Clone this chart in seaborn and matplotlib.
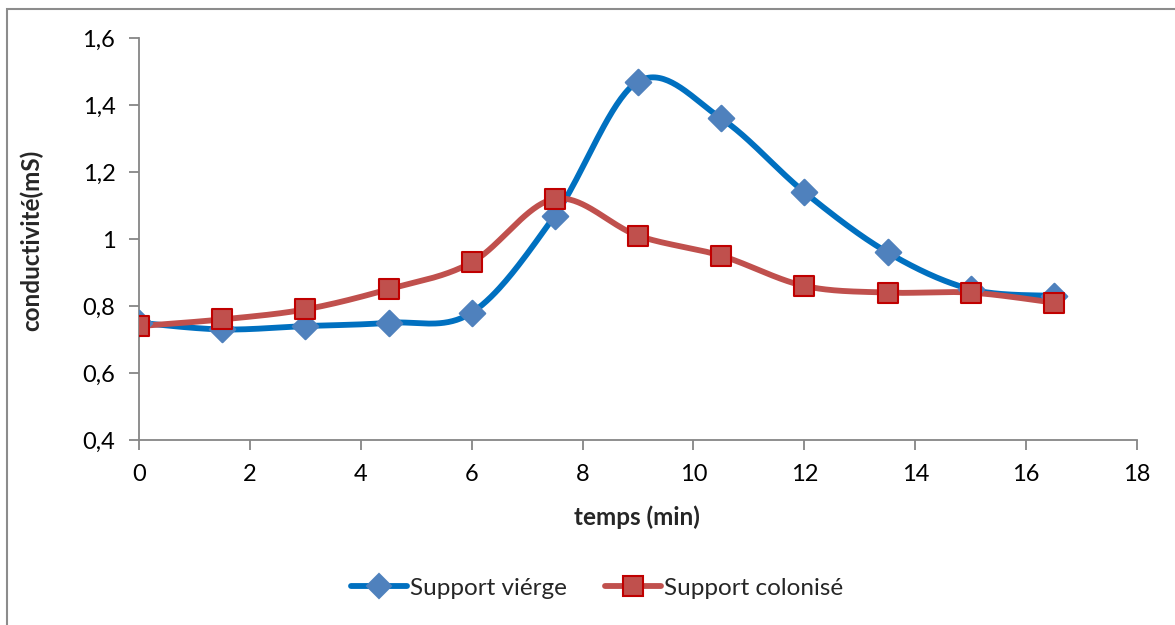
import numpy as np
import pandas as pd
import matplotlib
matplotlib.use("Agg")
import matplotlib.pyplot as plt
from matplotlib.lines import Line2D
from matplotlib.patches import Rectangle
import seaborn as sns

# Measured conductivity over time
temps = [0, 1.5, 3, 4.5, 6, 7.5, 9, 10.5, 12, 13.5, 15, 16.5]
support_vierge = [0.75, 0.73, 0.74, 0.75, 0.78, 1.07, 1.47, 1.36, 1.14, 0.96, 0.85, 0.83]
support_colonise = [0.74, 0.76, 0.79, 0.85, 0.93, 1.12, 1.01, 0.95, 0.86, 0.84, 0.84, 0.81]
series_names = ["Support viérge", "Support colonisé"]
x_ticks = [0, 2, 4, 6, 8, 10, 12, 14, 16, 18]
y_ticks = [0.4, 0.6, 0.8, 1.0, 1.2, 1.4, 1.6]


def smooth(x, y, n=40):
    """Cardinal (Catmull-Rom) Bezier smoothing through every point."""
    x = np.asarray(x, float)
    y = np.asarray(y, float)
    px = np.concatenate([[x[0]], x, [x[-1]]])
    py = np.concatenate([[y[0]], y, [y[-1]]])
    xs, ys = [], []
    t = np.linspace(0, 1, n)
    for i in range(1, len(px) - 2):
        p0 = np.array([px[i], py[i]])
        p3 = np.array([px[i + 1], py[i + 1]])
        c1 = p0 + (np.array([px[i + 1], py[i + 1]]) - np.array([px[i - 1], py[i - 1]])) / 6
        c2 = p3 - (np.array([px[i + 2], py[i + 2]]) - np.array([px[i], py[i]])) / 6
        b = ((1 - t) ** 3)[:, None] * p0 + (3 * (1 - t) ** 2 * t)[:, None] * c1 \
            + (3 * (1 - t) * t ** 2)[:, None] * c2 + (t ** 3)[:, None] * p3
        xs.extend(b[:, 0])
        ys.extend(b[:, 1])
    return np.array(xs), np.array(ys)


sns.set_theme(style="white")
plt.rcParams["font.family"] = ["Lato", "DejaVu Sans"]

fig = plt.figure(figsize=(11.75, 6.25), dpi=100)
ax = fig.add_axes([139 / 1175, 1 - 440 / 625, (1137 - 139) / 1175, (440 - 38) / 625])

# Chart-area frame
fig.patches.append(Rectangle((7 / 1175, -0.01), 1.02, 1 - 9 / 625 + 0.01,
                             transform=fig.transFigure, fill=False,
                             edgecolor="#8c8c8c", linewidth=1.5, zorder=0))

styles = [
    dict(line="#0070C0", face="#4F81BD", edge="#4F81BD", marker="D", ms=13),
    dict(line="#C0504D", face="#C0504D", edge="#C00000", marker="s", ms=15),
]

for vals, name, st in zip([support_vierge, support_colonise], series_names, styles):
    sx, sy = smooth(temps, vals)
    sns.lineplot(x=sx, y=sy, sort=False, ax=ax, color=st["line"], linewidth=4.2,
                 estimator=None, legend=False)
    df = pd.DataFrame({"temps": temps, "val": vals})
    sns.scatterplot(data=df, x="temps", y="val", ax=ax, marker=st["marker"],
                    s=st["ms"] ** 2, color=st["face"], edgecolor=st["edge"],
                    linewidth=1.5, legend=False, zorder=5)

ax.set_xlim(0, 18)
ax.set_ylim(0.4, 1.6)
ax.set_xticks(x_ticks)
ax.set_yticks(y_ticks)
ax.set_xticklabels([str(v) for v in x_ticks])
ax.set_yticklabels([("%g" % v).replace(".", ",") for v in y_ticks])

for side in ["top", "right"]:
    ax.spines[side].set_visible(False)
for side in ["left", "bottom"]:
    ax.spines[side].set_color("#868686")
    ax.spines[side].set_linewidth(1.3)

ax.tick_params(axis="both", which="major", direction="out", length=7, width=1.3,
               color="#868686", labelsize=17, labelcolor="black", left=True, bottom=True)
ax.tick_params(axis="x", pad=10)
ax.tick_params(axis="y", pad=10)

ax.set_xlabel("temps (min)", fontsize=17.5, fontweight="bold")
ax.set_ylabel("conductivité(mS)", fontsize=17.5, fontweight="bold")
ax.xaxis.set_label_coords((637 - 139) / 998, (440 - 505) / 402)
ax.yaxis.set_label_coords((43 - 139) / 998, (440 - 240) / 402)

handles = [
    Line2D([0], [0], color=st["line"], linewidth=4.2, marker=st["marker"],
           markersize=st["ms"] * 0.95, markerfacecolor=st["face"],
           markeredgecolor=st["edge"], markeredgewidth=1.5)
    for st in styles
]
fig.legend(handles, series_names, loc="center", bbox_to_anchor=(597 / 1175, 1 - 588 / 625),
           ncol=2, frameon=False, fontsize=17.5, handlelength=2.3, handletextpad=0.1,
           columnspacing=1.6)

fig.savefig("out.png", dpi=100)
